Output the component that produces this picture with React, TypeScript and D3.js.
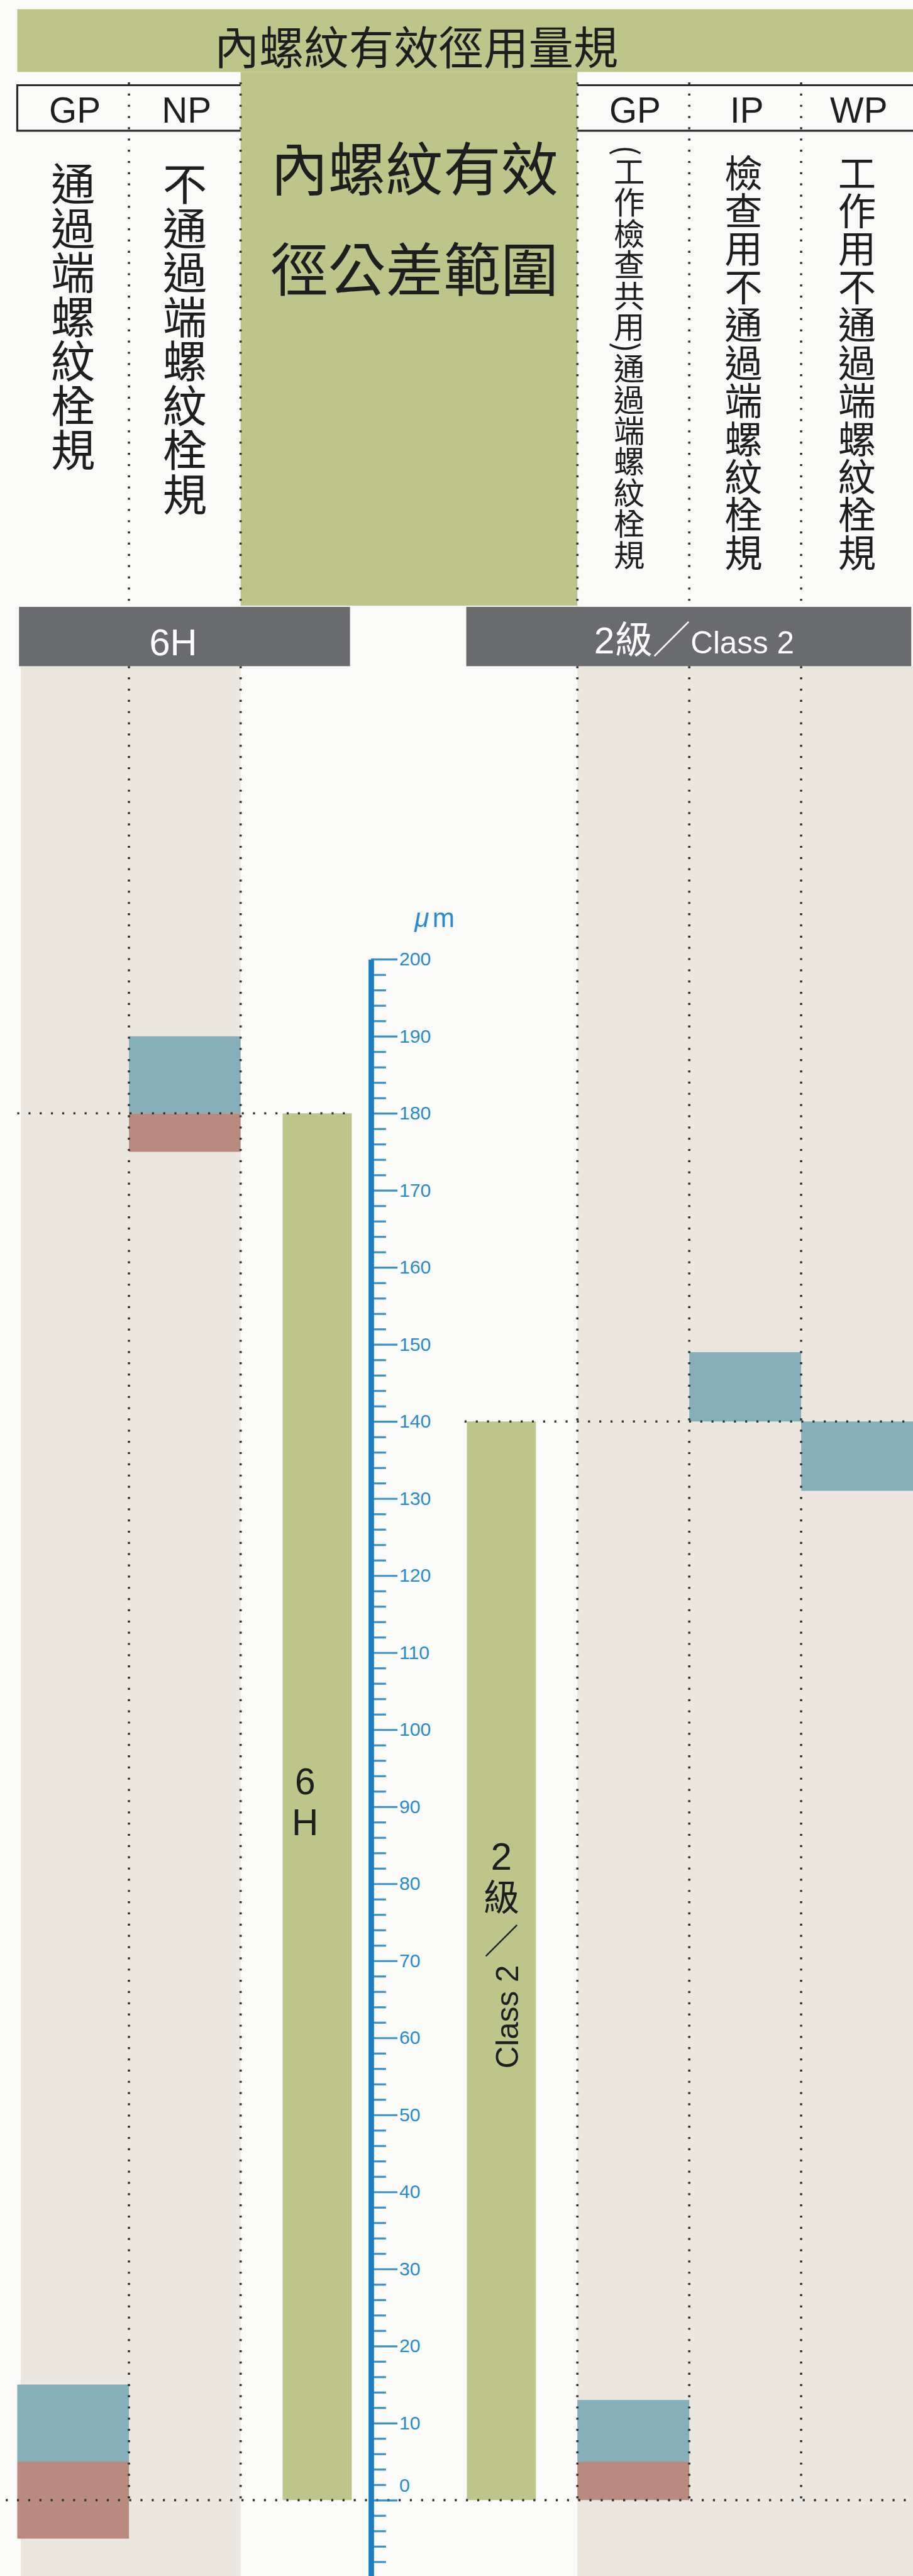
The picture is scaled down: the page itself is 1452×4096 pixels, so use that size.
import React, { useEffect, useRef } from 'react';
import * as d3 from 'd3';

// header texts
const title = '內螺紋有效徑用量規';
const centerTitle = ['內螺紋有效', '徑公差範圍'];
const leftGauges = ['GP', 'NP'];
const rightGauges = ['GP', 'IP', 'WP'];
const leftNames = ['通過端螺紋栓規', '不通過端螺紋栓規'];
const rightNames = ['(工作檢查共用)通過端螺紋栓規', '檢查用不通過端螺紋栓規', '工作用不通過端螺紋栓規'];
const classNames = ['6H', '2級'];
const classEnglish = 'Class 2';

// tolerance of the internal thread pitch diameter (µm)
const toleranceLow = [0, 0];
const toleranceHigh = [180, 140];

// gauge zones (µm): blue = gauge tolerance, red = wear allowance
const leftBlue = [[5, 15], [180, 190]];
const leftRed = [[-5, 5], [175, 180]];
const rightBlue = [[5, 13], [140, 149], [131, 140]];
const rightRed = [[0, 5], null, null];

// dotted reference levels
const refLevels = [180, 140, 0];

// axis ticks
const majorTicks = [0, 10, 20, 30, 40, 50, 60, 70, 80, 90, 100, 110, 120, 130, 140, 150, 160, 170, 180, 190, 200];

const W = 1586;
const H = 4474;

const C = {
  bg: '#fafaf8',
  green: '#bdc58b',
  beige: '#ebe7de',
  gray: '#6a6b6f',
  blue: '#87afba',
  red: '#b98a7f',
  axis: '#1a7ec2',
  axisText: '#2a8bcc',
  dot: '#333333',
  ink: '#1e1e1e',
};

const CJK = '"Noto Sans CJK TC", "Noto Sans CJK SC", sans-serif';
const LATIN = '"Liberation Sans", Arial, sans-serif';

const y = d3.scaleLinear().domain([-10, 200]).range([4476, 1666]);
const leftX = d3.scaleBand<number>().domain(d3.range(leftGauges.length)).range([30, 418]);
const rightX = d3.scaleBand<number>().domain(d3.range(rightGauges.length)).range([1003, 1586]);
const barX = d3.scaleBand<number>().domain([0, 1]).range([491, 931]).paddingInner(0.625);

const leftFont = [77, 77];
const rightFont = [54, 66, 66];
const rightShift = [-7, -3, 0];

const App = () => {
  const axisRef = useRef<SVGGElement>(null);

  useEffect(() => {
    const g = d3.select(axisRef.current);
    g.selectAll('*').remove();
    const minor = d3.range(-8, 200, 2).filter(v => v % 10 !== 0);

    const gm = g.append('g').call(
      d3.axisRight(y).tickValues(minor).tickSize(26).tickSizeOuter(0).tickFormat(() => '')
    );
    gm.select('.domain').remove();

    const gM = g.append('g').call(
      d3.axisRight(y).tickValues(majorTicks).tickSize(46).tickPadding(3).tickSizeOuter(0)
    );
    gM.select('.domain').attr('stroke', C.axis).attr('stroke-width', 9.5);

    g.selectAll('.tick line').attr('stroke', C.axis).attr('stroke-width', 3.5).attr('opacity', 0.85);
    gM.selectAll('.tick text')
      .attr('fill', C.axisText)
      .style('font-family', LATIN)
      .style('font-size', '33px')
      .attr('y', (d: any) => (d === 0 ? -26 : 0));
  }, []);

  const vLine = (x: number, y0: number, y1: number, k: string) => (
    <line key={k} x1={x} x2={x} y1={y0} y2={y1} stroke={C.dot} strokeWidth={4} strokeDasharray="3.5 16" />
  );

  const separators = [leftX(1)!, 418, 1003, rightX(1)!, rightX(2)!];
  const refExtent = [[30, 600], [807, 1586], [10, 1586]];
  const bx1 = barX(1)! + barX.bandwidth() / 2;

  return (
    <svg
      width={1452}
      height={4096}
      viewBox={`0 0 ${W} ${H}`}
      style={{ position: 'absolute', left: 0, top: 0, display: 'block' }}
    >
      <rect x={0} y={0} width={W} height={H} fill={C.bg} />

      {/* title band and central column */}
      <rect x={30} y={16} width={W - 30} height={109} fill={C.green} />
      <rect x={418} y={125} width={585} height={927} fill={C.green} />
      <text x={723} y={111} textAnchor="middle" fontFamily={CJK} fontSize={78} fill={C.ink}>
        {title}
      </text>
      {centerTitle.map((t, i) => (
        <text key={t} x={720} y={331 + i * 175} textAnchor="middle" fontFamily={CJK} fontSize={100} fill={C.ink}>
          {t}
        </text>
      ))}

      {/* header boxes */}
      <path d="M418,148 H30 V227 H418" fill="none" stroke="#2b2b2b" strokeWidth={3.5} />
      <path d={`M1003,148 H${W} M1003,227 H${W}`} fill="none" stroke="#2b2b2b" strokeWidth={3.5} />
      {leftGauges.map((g, i) => (
        <text key={'lg' + i} x={leftX(i)! + leftX.bandwidth() / 2 + 3} y={213} textAnchor="middle"
          fontFamily={LATIN} fontSize={62} fill={C.ink}>{g}</text>
      ))}
      {rightGauges.map((g, i) => (
        <text key={'rg' + i} x={rightX(i)! + rightX.bandwidth() / 2 + 3} y={213} textAnchor="middle"
          fontFamily={LATIN} fontSize={62} fill={C.ink}>{g}</text>
      ))}

      {/* vertical gauge names */}
      {leftNames.map((t, i) => (
        <text key={'ln' + i} x={leftX(i)! + leftX.bandwidth() / 2} y={281} fontFamily={CJK}
          fontSize={leftFont[i]} fill={C.ink} style={{ writingMode: 'vertical-rl' }}>{t}</text>
      ))}
      {rightNames.map((t, i) => (
        <text key={'rn' + i} x={rightX(i)! + rightX.bandwidth() / 2 + rightShift[i]} y={i === 0 ? 252 : 267}
          fontFamily={CJK} fontSize={rightFont[i]} fill={C.ink} style={{ writingMode: 'vertical-rl' }}>{t}</text>
      ))}

      {/* beige gauge columns */}
      <rect x={36} y={1157} width={418 - 36} height={H - 1157} fill={C.beige} />
      <rect x={1003} y={1157} width={W - 1003} height={H - 1157} fill={C.beige} />

      {/* tolerance bars */}
      {toleranceHigh.map((v, i) => (
        <rect key={'tb' + i} x={barX(i)} y={y(v)} width={barX.bandwidth()} height={y(toleranceLow[i]) - y(v)}
          fill={C.green} />
      ))}

      {/* gauge zones */}
      {leftBlue.map((r, i) => (
        <rect key={'lb' + i} x={leftX(i)} y={y(r[1])} width={leftX.bandwidth()} height={y(r[0]) - y(r[1])} fill={C.blue} />
      ))}
      {leftRed.map((r, i) => (
        <rect key={'lr' + i} x={leftX(i)} y={y(r[1])} width={leftX.bandwidth()} height={y(r[0]) - y(r[1])} fill={C.red} />
      ))}
      {rightBlue.map((r, i) => (
        <rect key={'rb' + i} x={rightX(i)} y={y(r[1])} width={rightX.bandwidth()} height={y(r[0]) - y(r[1])} fill={C.blue} />
      ))}
      {rightRed.map((r, i) =>
        r ? (
          <rect key={'rr' + i} x={rightX(i)} y={y(r[1])} width={rightX.bandwidth()} height={y(r[0]) - y(r[1])} fill={C.red} />
        ) : null
      )}

      {/* dotted separators and reference levels */}
      {separators.map((x, i) => vLine(x, 143, y(0), 'sep' + i))}
      {refLevels.map((v, i) => (
        <line key={'ref' + i} x1={refExtent[i][0]} x2={refExtent[i][1]} y1={y(v)} y2={y(v)}
          stroke={C.dot} strokeWidth={4} strokeDasharray="3.5 16" />
      ))}

      {/* class bars */}
      <rect x={33} y={1054} width={575} height={103} fill={C.gray} />
      <rect x={810} y={1054} width={773} height={103} fill={C.gray} />
      <text x={301} y={1138} textAnchor="middle" fontFamily={LATIN} fontSize={65} fill="#fff">{classNames[0]}</text>
      <text x={1032} y={1135} fontFamily={LATIN} fill="#fff">
        <tspan fontSize={64}>2</tspan>
        <tspan fontFamily={CJK} fontSize={66}>級／</tspan>
        <tspan fontSize={54}>{classEnglish}</tspan>
      </text>

      {/* labels inside tolerance bars */}
      <text textAnchor="middle" fontFamily={LATIN} fontSize={64} fill={C.ink}>
        <tspan x={barX(0)! + 39} y={y(91.6)}>6</tspan>
        <tspan x={barX(0)! + 39} y={y(86.3)}>H</tspan>
      </text>
      <text x={bx1} y={y(81.8)} textAnchor="middle" fontFamily={LATIN} fontSize={66} fill={C.ink}>2</text>
      <text x={bx1} y={y(76.5)} textAnchor="middle" fontFamily={CJK} fontSize={63} fill={C.ink}>級</text>
      <text x={bx1} y={y(71.0)} textAnchor="middle" fontFamily={CJK} fontSize={60} fill={C.ink}>／</text>
      <text transform={`translate(${bx1 + 29},${y(56.0)}) rotate(-90)`} fontFamily={LATIN} fontSize={54} fill={C.ink}>
        {classEnglish}
      </text>

      {/* axis */}
      <g ref={axisRef} transform="translate(644.5,0)" />
      <text x={720} y={1610} fontFamily={LATIN} fontSize={46} fill={C.axisText}>
        <tspan fontStyle="italic">μ</tspan>
        <tspan dx={6}>m</tspan>
      </text>
    </svg>
  );
};

export default App;
